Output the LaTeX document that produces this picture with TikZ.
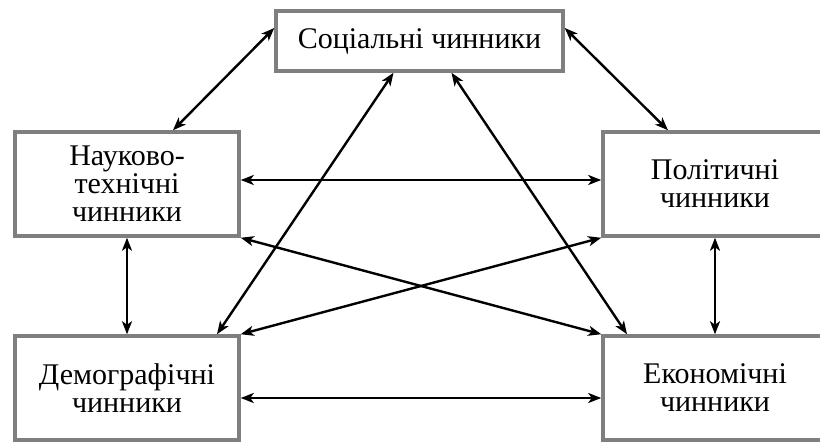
\documentclass[tikz,border=0pt]{standalone}
\usepackage{fontspec}
\setmainfont{Liberation Serif}
\newfontfamily\factorfont{Liberation Serif}
\usetikzlibrary{arrows.meta}
\definecolor{frame}{HTML}{7F7F7F}

\begin{document}
\begin{tikzpicture}[
    x=1pt, y=-1pt,
    factor/.style={draw=frame, line width=3.5pt, fill=white, align=center, inner sep=0pt, minimum width=224pt, minimum height=104pt, font=\factorfont\fontsize{30}{28}\selectfont},
    link/.style={line width=2.4pt, {Stealth[length=13pt, width=10pt, inset=3.5pt]}-{Stealth[length=13pt, width=10pt, inset=3.5pt]}}
  ]
    \useasboundingbox (0,0) rectangle (820,443);

    % factors
    \node[factor, minimum width=287pt, minimum height=60pt] (soc) at (419.5,41) {Соціальні чинники};
    \node[factor] (nauk) at (127,184) {Науково-\\технічні\\чинники};
    \node[factor] (polit) at (715,184) {Політичні\\чинники};
    \node[factor] (demo) at (127,388) {Демографічні\\чинники};
    \node[factor] (econ) at (715,388) {Економічні\\чинники};

    % links
    \draw[link] ([yshift=13pt]soc.west) -- ([xshift=46pt]nauk.north);
    \draw[link] ([yshift=13pt]soc.east) -- ([xshift=-47pt]polit.north);
    \draw[link] ([yshift=4pt]nauk.east) -- ([yshift=4pt]polit.west);
    \draw[link] (nauk.south) -- (demo.north);
    \draw[link] (polit.south) -- (econ.north);
    \draw[link] ([yshift=-10pt]demo.east) -- ([yshift=-10pt]econ.west);
    \draw[link] ([xshift=-26pt]soc.south) -- ([xshift=90pt]demo.north);
    \draw[link] ([xshift=32pt]soc.south) -- ([xshift=-88pt]econ.north);
    \draw[link] (nauk.south east) -- (econ.north west);
    \draw[link] (demo.north east) -- (polit.south west);
\end{tikzpicture}
\end{document}
